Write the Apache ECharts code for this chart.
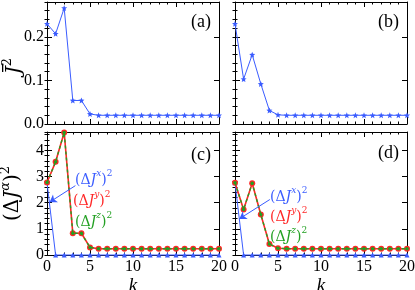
<!DOCTYPE html>
<html><head><meta charset="utf-8">
<script src="https://cdn.jsdelivr.net/npm/echarts@6/dist/echarts.min.js"></script>
<style>html,body{margin:0;padding:0;background:#fff}#c{width:415px;height:290px}</style>
</head><body><div id="c"></div>
<script>
// ---- data ----
const kValues = [0,1,2,3,4,5,6,7,8,9,10,11,12,13,14,15,16,17,18,19,20];
const jbarA = [0.230,0.207,0.266,0.054,0.054,0.023,0.020,0.020,0.020,0.020,0.020,0.020,0.020,0.020,0.020,0.020,0.020,0.020,0.020,0.020,0.020];
const jbarB = [0.230,0.103,0.159,0.092,0.031,0.021,0.020,0.020,0.020,0.020,0.020,0.020,0.020,0.020,0.020,0.020,0.020,0.020,0.020,0.020,0.020];
const jxC = [2.77,0,0,0,0,0,0,0,0,0,0,0,0,0,0,0,0,0,0,0,0];
const jyC = [2.77,3.56,4.68,0.83,0.83,0.29,0.24,0.24,0.24,0.24,0.24,0.24,0.24,0.24,0.24,0.24,0.24,0.24,0.24,0.24,0.24];
const jzC = [2.77,3.56,4.68,0.83,0.83,0.29,0.24,0.24,0.24,0.24,0.24,0.24,0.24,0.24,0.24,0.24,0.24,0.24,0.24,0.24,0.24];
const jxD = [2.76,0,0,0,0,0,0,0,0,0,0,0,0,0,0,0,0,0,0,0,0];
const jyD = [2.76,1.74,2.74,1.55,0.42,0.26,0.24,0.24,0.24,0.24,0.24,0.24,0.24,0.24,0.24,0.24,0.24,0.24,0.24,0.24,0.24];
const jzD = [2.76,1.74,2.74,1.55,0.42,0.26,0.24,0.24,0.24,0.24,0.24,0.24,0.24,0.24,0.24,0.24,0.24,0.24,0.24,0.24,0.24];
const xTickLabels = [0,5,10,15,20];
const yTickLabelsTop = [0.0,0.1,0.2];
const yTickLabelsBottom = [0,1,2,3,4];

// ---- styling ----
const BLUE = '#3a5cff', RED = '#ff2626', GREEN = '#22a022';
const SERIF = 'Liberation Serif';
const MSERIF = 'DejaVu Serif';
const pairs = vals => vals.map((v, i) => [kValues[i], v]);
const STAR = 'path://M50 0 L63 33 L98 35 L71 58 L80 93 L50 74 L20 93 L29 58 L2 35 L37 33 Z';

const grids = [
  {left:47, top:2, width:172, height:122},
  {left:235, top:2, width:172, height:122},
  {left:47, top:132, width:172, height:123},
  {left:235, top:132, width:172, height:123}
].map(g => Object.assign(g, {outerBoundsMode:'none', containLabel:false}));

const xAxis = [], yAxis = [];
function addX(g, showLabels) {
  const base = {gridIndex:g, type:'value', min:xTickLabels[0], max:xTickLabels[xTickLabels.length-1],
    interval:xTickLabels[1]-xTickLabels[0],
    axisLine:{show:true, onZero:false, lineStyle:{color:'#000', width:1}},
    axisTick:{show:true, inside:true, length:5, lineStyle:{color:'#000', width:1}},
    minorTick:{show:true, splitNumber:5, length:2.5, lineStyle:{color:'#000', width:1}},
    splitLine:{show:false}, minorSplitLine:{show:false}};
  xAxis.push(Object.assign({}, base, {position:'bottom',
    axisLabel:{show:showLabels, fontFamily:SERIF, fontSize:16, color:'#000', margin:4},
    name: showLabels ? 'k' : '', nameLocation:'middle', nameGap:21,
    nameTextStyle:{fontFamily:SERIF, fontStyle:'italic', fontSize:19, color:'#000'}}));
  xAxis.push(Object.assign({}, base, {position:'top', axisLabel:{show:false}}));
}
function addY(g, ticks, max, minorInt, showLabels, name, rich, dec) {
  const major = ticks[1] - ticks[0];
  const fmt = v => (Math.abs(v / major - Math.round(v / major)) < 1e-6 ? v.toFixed(dec) : '');
  const line = {show:true, onZero:false, lineStyle:{color:'#000', width:1}};
  const base = {gridIndex:g, type:'value', min:ticks[0], max:max, splitLine:{show:false}};
  ['left','right'].forEach(pos => {
    yAxis.push(Object.assign({}, base, {position:pos, interval:major, axisLine:line,
      axisTick:{show:true, inside:true, length:5, lineStyle:{color:'#000', width:1}},
      axisLabel:{show: showLabels && pos === 'left', formatter:fmt, fontFamily:SERIF, fontSize:16, color:'#000', margin:3},
      name: (showLabels && pos === 'left') ? name : '', nameLocation:'middle', nameRotate:90, nameGap:24,
      nameTextStyle:{rich:rich}}));
    yAxis.push(Object.assign({}, base, {position:pos, interval:minorInt, axisLine:{show:false},
      axisTick:{show:true, inside:true, length:2.5, lineStyle:{color:'#000', width:1}},
      axisLabel:{show:false}}));
  });
}
const richBot = {
  n:{fontFamily:MSERIF, fontSize:20, color:'#000', lineHeight:24, verticalAlign:'bottom'},
  i:{fontFamily:MSERIF, fontStyle:'italic', fontSize:20, color:'#000', lineHeight:24, verticalAlign:'bottom'},
  s:{fontFamily:MSERIF, fontStyle:'italic', fontSize:13, color:'#000', lineHeight:13, verticalAlign:'top'},
  t:{fontFamily:MSERIF, fontSize:13, color:'#000', lineHeight:13, verticalAlign:'top'}
};
addX(0, false); addX(1, false); addX(2, true); addX(3, true);
addY(0, yTickLabelsTop, 0.28, 0.02, true, '', {}, 1);
addY(1, yTickLabelsTop, 0.28, 0.02, false, '', {}, 1);
addY(2, yTickLabelsBottom, 4.7, 0.2, true, '{n|(Δ}{i|J}{s|α}{n|)}{t|2}', richBot, 0);
addY(3, yTickLabelsBottom, 4.7, 0.2, false, '', richBot, 0);

function blueSeries(g, vals, symbol, size, arrow) {
  const s = {type:'line', xAxisIndex:g*2, yAxisIndex:g*4, data:pairs(vals), clip:false,
    symbol:symbol, symbolSize:size, showAllSymbol:true, itemStyle:{color:BLUE},
    lineStyle:{color:BLUE, width:1}, animation:false, z:2};
  if (arrow) s.markLine = {silent:true, symbol:['none','arrow'], symbolSize:7, animation:false,
    label:{show:false}, lineStyle:{color:BLUE, width:1, type:'solid'},
    data:[[{coord:arrow[0]}, {coord:arrow[1]}]]};
  return s;
}
function rgSeries(g, yv, zv) {
  return [
    {type:'line', xAxisIndex:g*2, yAxisIndex:g*4, data:pairs(yv), clip:false, symbol:'circle', symbolSize:6,
      showAllSymbol:true, itemStyle:{color:RED}, lineStyle:{color:RED, width:1.6}, animation:false, z:3},
    {type:'line', xAxisIndex:g*2, yAxisIndex:g*4, data:pairs(zv), clip:false, symbol:'circle', symbolSize:3.5,
      showAllSymbol:true, itemStyle:{color:GREEN}, lineStyle:{color:GREEN, width:1.4, type:[3,3]}, animation:false, z:4}
  ];
}
const series = [
  blueSeries(0, jbarA, STAR, 6),
  blueSeries(1, jbarB, STAR, 6),
  blueSeries(2, jxC, 'triangle', 5, [[3.3, 2.65], [0.3, 2.02]]),
  ...rgSeries(2, jyC, jzC),
  blueSeries(3, jxD, 'triangle', 5, [[4.05, 2.12], [0.5, 1.38]]),
  ...rgSeries(3, jyD, jzD)
];

function annot(x, y, comp, color) {
  return {type:'text', x:x, y:y, z:100, silent:true, style:{
    text:'{n|(Δ}{i|J}{s|' + comp + '}{n|)}{t|2}', align:'left', verticalAlign:'middle', fill:color,
    rich:{
      n:{fontFamily:MSERIF, fontSize:14, fill:color, lineHeight:18, verticalAlign:'bottom'},
      i:{fontFamily:MSERIF, fontStyle:'italic', fontSize:14, fill:color, lineHeight:18, verticalAlign:'bottom'},
      s:{fontFamily:MSERIF, fontStyle:'italic', fontSize:9, fill:color, lineHeight:9, verticalAlign:'top'},
      t:{fontFamily:MSERIF, fontSize:9, fill:color, lineHeight:9, verticalAlign:'top'}
    }}};
}
function panelLabel(x, y, txt) {
  return {type:'text', x:x, y:y, z:100, silent:true, style:{text:txt, align:'right', verticalAlign:'middle',
    fill:'#000', font:'18px "' + SERIF + '"'}};
}
// y-axis title of the top row: barred J squared, rotated
const topYName = {type:'group', x:13, y:66, rotation:Math.PI/2, z:100, silent:true, children:[
  {type:'text', style:{text:'{j|J}{s|2}', align:'center', verticalAlign:'middle', rich:{
    j:{fontFamily:MSERIF, fontStyle:'italic', fontSize:20, fill:'#000', lineHeight:24, verticalAlign:'bottom'},
    s:{fontFamily:MSERIF, fontSize:13, fill:'#000', lineHeight:13, verticalAlign:'top'}}}},
  {type:'rect', shape:{x:-6, y:-11, width:8.5, height:1.3}, style:{fill:'#000'}}
]};
const graphic = [
  topYName,
  panelLabel(211, 22, '(a)'), panelLabel(399, 22, '(b)'),
  panelLabel(211, 155, '(c)'), panelLabel(399, 153, '(d)'),
  annot(75, 178, 'x', BLUE), annot(73, 199, 'y', RED), annot(75, 220, 'z', GREEN),
  annot(270, 195, 'x', BLUE), annot(270, 215, 'y', RED), annot(270, 235, 'z', GREEN)
];

const chart = echarts.init(document.getElementById('c'), null, {renderer:'canvas'});
chart.setOption({backgroundColor:'#fff', animation:false, grid:grids, xAxis:xAxis, yAxis:yAxis,
  series:series, graphic:graphic});
</script></body></html>
